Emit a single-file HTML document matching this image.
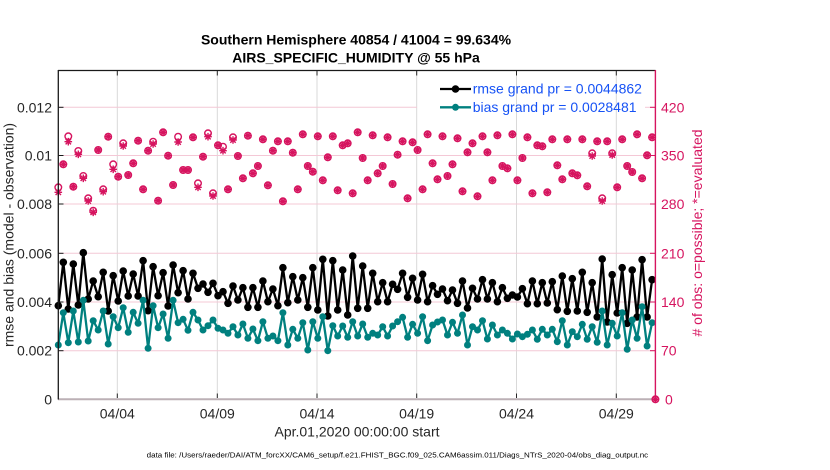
<!DOCTYPE html>
<html><head><meta charset="utf-8"><style>
html,body{margin:0;padding:0;background:#fff;}
svg{display:block;font-family:"Liberation Sans",Arial,sans-serif;}
</style></head><body>
<svg width="830" height="470" viewBox="0 0 830 470" xmlns="http://www.w3.org/2000/svg">
<defs>
<marker id="mb" markerUnits="userSpaceOnUse" markerWidth="10" markerHeight="10" refX="5" refY="5"><circle cx="5" cy="5" r="3.8" fill="#000"/></marker>
<marker id="mt" markerUnits="userSpaceOnUse" markerWidth="10" markerHeight="10" refX="5" refY="5"><circle cx="5" cy="5" r="3.5" fill="#00807f"/></marker>
<g id="o"><circle cx="0" cy="0" r="3.3" fill="none" stroke="#d6145f" stroke-width="1.4"/></g>
<g id="s"><path d="M-3.8,0H3.8M0,-3.8V3.8M-2.7,-2.7L2.7,2.7M-2.7,2.7L2.7,-2.7" stroke="#d6145f" stroke-width="1.4" fill="none"/></g>
</defs>
<rect width="830" height="470" fill="#fff"/>

<g stroke="#d9d9d9" stroke-width="1">
<line x1="117.3" y1="71" x2="117.3" y2="398"/>
<line x1="217.3" y1="71" x2="217.3" y2="398"/>
<line x1="317" y1="71" x2="317" y2="398"/>
<line x1="416.7" y1="71" x2="416.7" y2="398"/>
<line x1="516.5" y1="71" x2="516.5" y2="398"/>
<line x1="616.3" y1="71" x2="616.3" y2="398"/>
</g>
<g stroke="#f4c8d6" stroke-width="1">
<line x1="58" y1="107.3" x2="417" y2="107.3"/>
<line x1="645" y1="107.3" x2="655" y2="107.3"/>
<line x1="58" y1="155.5" x2="655" y2="155.5"/>
<line x1="58" y1="204" x2="655" y2="204"/>
<line x1="58" y1="253.3" x2="655" y2="253.3"/>
<line x1="58" y1="302" x2="655" y2="302"/>
<line x1="58" y1="350.7" x2="655" y2="350.7"/>
</g>

<g>
<use href="#o" x="58.3" y="187.3"/><use href="#s" x="58.3" y="192.3"/>
<use href="#o" x="63.3" y="164.3"/><use href="#s" x="63.3" y="164.3"/>
<use href="#o" x="68.3" y="136.3"/><use href="#s" x="68.3" y="141.7"/>
<use href="#o" x="73.3" y="186.7"/><use href="#s" x="73.3" y="186.7"/>
<use href="#o" x="78.3" y="151"/><use href="#s" x="78.3" y="154.3"/>
<use href="#o" x="83.3" y="176"/><use href="#s" x="83.3" y="178.3"/>
<use href="#o" x="88.2" y="198.3"/><use href="#s" x="88.2" y="201"/>
<use href="#o" x="93.2" y="210.7"/><use href="#s" x="93.2" y="212.3"/>
<use href="#o" x="98.2" y="150"/><use href="#s" x="98.2" y="150"/>
<use href="#o" x="103.2" y="189.3"/><use href="#s" x="103.2" y="191.7"/>
<use href="#o" x="108.2" y="136.7"/><use href="#s" x="108.2" y="136.7"/>
<use href="#o" x="113.2" y="164.3"/><use href="#s" x="113.2" y="169.3"/>
<use href="#o" x="118.2" y="176.7"/><use href="#s" x="118.2" y="176.7"/>
<use href="#o" x="123.2" y="143.3"/><use href="#s" x="123.2" y="146"/>
<use href="#o" x="128.2" y="175"/><use href="#s" x="128.2" y="175"/>
<use href="#o" x="133.2" y="163.3"/><use href="#s" x="133.2" y="163.3"/>
<use href="#o" x="138.1" y="140.7"/><use href="#s" x="138.1" y="140.7"/>
<use href="#o" x="143.1" y="189.3"/><use href="#s" x="143.1" y="189.3"/>
<use href="#o" x="148.1" y="150.7"/><use href="#s" x="148.1" y="150.7"/>
<use href="#o" x="153.1" y="141.7"/><use href="#s" x="153.1" y="144"/>
<use href="#o" x="158.1" y="200.7"/><use href="#s" x="158.1" y="200.7"/>
<use href="#o" x="163.1" y="132.3"/><use href="#s" x="163.1" y="132.3"/>
<use href="#o" x="168.1" y="155.7"/><use href="#s" x="168.1" y="155.7"/>
<use href="#o" x="173.1" y="185"/><use href="#s" x="173.1" y="185"/>
<use href="#o" x="178.1" y="136.7"/><use href="#s" x="178.1" y="142"/>
<use href="#o" x="183.1" y="170"/><use href="#s" x="183.1" y="170"/>
<use href="#o" x="188" y="170"/><use href="#s" x="188" y="170"/>
<use href="#o" x="193" y="137.3"/><use href="#s" x="193" y="137.3"/>
<use href="#o" x="198" y="183.3"/><use href="#s" x="198" y="187.3"/>
<use href="#o" x="203" y="156.7"/><use href="#s" x="203" y="156.7"/>
<use href="#o" x="208" y="133.3"/><use href="#s" x="208" y="136.7"/>
<use href="#o" x="213" y="193.3"/><use href="#s" x="213" y="196"/>
<use href="#o" x="218" y="145.3"/><use href="#s" x="218" y="145.3"/>
<use href="#o" x="223" y="146.7"/><use href="#s" x="223" y="150.7"/>
<use href="#o" x="228" y="189.3"/><use href="#s" x="228" y="189.3"/>
<use href="#o" x="233" y="137.3"/><use href="#s" x="233" y="140"/>
<use href="#o" x="237.9" y="156"/><use href="#s" x="237.9" y="156"/>
<use href="#o" x="242.9" y="178.3"/><use href="#s" x="242.9" y="178.3"/>
<use href="#o" x="247.9" y="135.7"/><use href="#s" x="247.9" y="135.7"/>
<use href="#o" x="252.9" y="173.3"/><use href="#s" x="252.9" y="173.3"/>
<use href="#o" x="257.9" y="166"/><use href="#s" x="257.9" y="166"/>
<use href="#o" x="262.9" y="139.3"/><use href="#s" x="262.9" y="139.3"/>
<use href="#o" x="267.9" y="185.3"/><use href="#s" x="267.9" y="185.3"/>
<use href="#o" x="272.9" y="150.7"/><use href="#s" x="272.9" y="150.7"/>
<use href="#o" x="277.9" y="141.3"/><use href="#s" x="277.9" y="141.3"/>
<use href="#o" x="282.9" y="201.3"/><use href="#s" x="282.9" y="201.3"/>
<use href="#o" x="287.8" y="141.3"/><use href="#s" x="287.8" y="141.3"/>
<use href="#o" x="292.8" y="152.7"/><use href="#s" x="292.8" y="152.7"/>
<use href="#o" x="297.8" y="189.3"/><use href="#s" x="297.8" y="189.3"/>
<use href="#o" x="302.8" y="134.3"/><use href="#s" x="302.8" y="134.3"/>
<use href="#o" x="307.8" y="166"/><use href="#s" x="307.8" y="166"/>
<use href="#o" x="312.8" y="171.7"/><use href="#s" x="312.8" y="171.7"/>
<use href="#o" x="317.8" y="136.3"/><use href="#s" x="317.8" y="136.3"/>
<use href="#o" x="322.8" y="180.3"/><use href="#s" x="322.8" y="180.3"/>
<use href="#o" x="327.8" y="157.3"/><use href="#s" x="327.8" y="157.3"/>
<use href="#o" x="332.8" y="136.3"/><use href="#s" x="332.8" y="136.3"/>
<use href="#o" x="337.7" y="190.3"/><use href="#s" x="337.7" y="190.3"/>
<use href="#o" x="342.7" y="145.3"/><use href="#s" x="342.7" y="145.3"/>
<use href="#o" x="347.7" y="143.3"/><use href="#s" x="347.7" y="143.3"/>
<use href="#o" x="352.7" y="193.3"/><use href="#s" x="352.7" y="193.3"/>
<use href="#o" x="357.7" y="132.3"/><use href="#s" x="357.7" y="132.3"/>
<use href="#o" x="362.7" y="158"/><use href="#s" x="362.7" y="158"/>
<use href="#o" x="367.7" y="180.3"/><use href="#s" x="367.7" y="180.3"/>
<use href="#o" x="372.7" y="135.3"/><use href="#s" x="372.7" y="135.3"/>
<use href="#o" x="377.7" y="173.3"/><use href="#s" x="377.7" y="173.3"/>
<use href="#o" x="382.7" y="166"/><use href="#s" x="382.7" y="166"/>
<use href="#o" x="387.6" y="137.3"/><use href="#s" x="387.6" y="137.3"/>
<use href="#o" x="392.6" y="184"/><use href="#s" x="392.6" y="184"/>
<use href="#o" x="397.6" y="154.7"/><use href="#s" x="397.6" y="154.7"/>
<use href="#o" x="402.6" y="141.3"/><use href="#s" x="402.6" y="141.3"/>
<use href="#o" x="407.6" y="198.3"/><use href="#s" x="407.6" y="198.3"/>
<use href="#o" x="412.6" y="142.3"/><use href="#s" x="412.6" y="142.3"/>
<use href="#o" x="417.6" y="150"/><use href="#s" x="417.6" y="150"/>
<use href="#o" x="422.6" y="189.3"/><use href="#s" x="422.6" y="189.3"/>
<use href="#o" x="427.6" y="134.3"/><use href="#s" x="427.6" y="134.3"/>
<use href="#o" x="432.6" y="163.3"/><use href="#s" x="432.6" y="163.3"/>
<use href="#o" x="437.5" y="179.3"/><use href="#s" x="437.5" y="179.3"/>
<use href="#o" x="442.5" y="136.3"/><use href="#s" x="442.5" y="136.3"/>
<use href="#o" x="447.5" y="176"/><use href="#s" x="447.5" y="176"/>
<use href="#o" x="452.5" y="164.3"/><use href="#s" x="452.5" y="164.3"/>
<use href="#o" x="457.5" y="138.3"/><use href="#s" x="457.5" y="138.3"/>
<use href="#o" x="462.5" y="191.3"/><use href="#s" x="462.5" y="191.3"/>
<use href="#o" x="467.5" y="152.3"/><use href="#s" x="467.5" y="152.3"/>
<use href="#o" x="472.5" y="143.3"/><use href="#s" x="472.5" y="143.3"/>
<use href="#o" x="477.5" y="196.3"/><use href="#s" x="477.5" y="196.3"/>
<use href="#o" x="482.5" y="136.3"/><use href="#s" x="482.5" y="136.3"/>
<use href="#o" x="487.4" y="152.3"/><use href="#s" x="487.4" y="152.3"/>
<use href="#o" x="492.4" y="180.3"/><use href="#s" x="492.4" y="180.3"/>
<use href="#o" x="497.4" y="135.3"/><use href="#s" x="497.4" y="135.3"/>
<use href="#o" x="502.4" y="166"/><use href="#s" x="502.4" y="166"/>
<use href="#o" x="507.4" y="168.3"/><use href="#s" x="507.4" y="168.3"/>
<use href="#o" x="512.4" y="134.3"/><use href="#s" x="512.4" y="134.3"/>
<use href="#o" x="517.4" y="180.3"/><use href="#s" x="517.4" y="180.3"/>
<use href="#o" x="522.4" y="158"/><use href="#s" x="522.4" y="158"/>
<use href="#o" x="527.4" y="137.3"/><use href="#s" x="527.4" y="137.3"/>
<use href="#o" x="532.4" y="193.3"/><use href="#s" x="532.4" y="193.3"/>
<use href="#o" x="537.3" y="145.3"/><use href="#s" x="537.3" y="145.3"/>
<use href="#o" x="542.3" y="146.3"/><use href="#s" x="542.3" y="146.3"/>
<use href="#o" x="547.3" y="192.3"/><use href="#s" x="547.3" y="192.3"/>
<use href="#o" x="552.3" y="139.3"/><use href="#s" x="552.3" y="139.3"/>
<use href="#o" x="557.3" y="165.3"/><use href="#s" x="557.3" y="165.3"/>
<use href="#o" x="562.3" y="179.3"/><use href="#s" x="562.3" y="179.3"/>
<use href="#o" x="567.3" y="139.3"/><use href="#s" x="567.3" y="139.3"/>
<use href="#o" x="572.3" y="173.3"/><use href="#s" x="572.3" y="173.3"/>
<use href="#o" x="577.3" y="175.3"/><use href="#s" x="577.3" y="175.3"/>
<use href="#o" x="582.3" y="139.3"/><use href="#s" x="582.3" y="139.3"/>
<use href="#o" x="587.2" y="186.3"/><use href="#s" x="587.2" y="186.3"/>
<use href="#o" x="592.2" y="153.3"/><use href="#s" x="592.2" y="156"/>
<use href="#o" x="597.2" y="141.3"/><use href="#s" x="597.2" y="141.3"/>
<use href="#o" x="602.2" y="198.3"/><use href="#s" x="602.2" y="201"/>
<use href="#o" x="607.2" y="141.3"/><use href="#s" x="607.2" y="141.3"/>
<use href="#o" x="612.2" y="153.3"/><use href="#s" x="612.2" y="155"/>
<use href="#o" x="617.2" y="187.3"/><use href="#s" x="617.2" y="187.3"/>
<use href="#o" x="622.2" y="139.3"/><use href="#s" x="622.2" y="139.3"/>
<use href="#o" x="627.2" y="166"/><use href="#s" x="627.2" y="166"/>
<use href="#o" x="632.2" y="172"/><use href="#s" x="632.2" y="172"/>
<use href="#o" x="637.1" y="134.3"/><use href="#s" x="637.1" y="134.3"/>
<use href="#o" x="642.1" y="178.3"/><use href="#s" x="642.1" y="178.3"/>
<use href="#o" x="647.1" y="155.3"/><use href="#s" x="647.1" y="155.3"/>
<use href="#o" x="652.1" y="137.3"/><use href="#s" x="652.1" y="137.3"/>
</g>

<polyline fill="none" stroke="#000" stroke-width="2.3" stroke-linejoin="round" marker-start="url(#mb)" marker-mid="url(#mb)" marker-end="url(#mb)" points="58.3,305.7 63.3,262.3 68.3,309 73.3,264 78.3,305 83.3,252.7 88.2,299 93.2,281 98.2,296.7 103.2,272.3 108.2,311 113.2,275.7 118.2,301 123.2,271 128.2,296 133.2,274 138.1,296 143.1,260.7 148.1,310.7 153.1,266.7 158.1,295.7 163.1,272.7 168.1,306 173.1,265 178.1,292.7 183.1,270.7 188,299 193,273.3 198,288.3 203,284 208,292.3 213,283.3 218,295.7 223,291.7 228,303.3 233,286 237.9,300 242.9,287.7 247.9,307.3 252.9,287.7 257.9,307.3 262.9,281 267.9,301.7 272.9,289 277.9,305.7 282.9,267.7 287.8,302.7 292.8,276.7 297.8,300 302.8,277.7 307.8,307.3 312.8,267.7 317.8,310 322.8,259.3 327.8,316 332.8,260.7 337.7,310 342.7,270 347.7,315 352.7,256 357.7,308.3 362.7,266 367.7,308.3 372.7,273.3 377.7,301.7 382.7,282.7 387.6,301.7 392.6,284.3 397.6,289.3 402.6,273.3 407.6,297.3 412.6,278.3 417.6,300 422.6,274.3 427.6,301.7 432.6,285.7 437.5,294.3 442.5,289 447.5,300.7 452.5,290 457.5,303.3 462.5,281 467.5,308 472.5,288.3 477.5,299 482.5,279.7 487.4,299 492.4,282.7 497.4,301.7 502.4,287.7 507.4,298.3 512.4,295 517.4,297 522.4,288.7 527.4,303.7 532.4,281 537.3,303.7 542.3,282.7 547.3,303 552.3,281.7 557.3,309.7 562.3,276 567.3,311.3 572.3,278.7 577.3,311 582.3,272.3 587.2,312.3 592.2,282.7 597.2,317 602.2,259 607.2,322 612.2,274.7 617.2,313 622.2,267.7 627.2,323.3 632.2,270 637.1,317 642.1,259.7 647.1,317 652.1,279.7"/>

<polyline fill="none" stroke="#00807f" stroke-width="2.3" stroke-linejoin="round" marker-start="url(#mt)" marker-mid="url(#mt)" marker-end="url(#mt)" points="58.3,345 63.3,312.7 68.3,342.7 73.3,311 78.3,342 83.3,300.3 88.2,341 93.2,320.7 98.2,330 103.2,311 108.2,344 113.2,316.7 118.2,327.7 123.2,307.7 128.2,332.3 133.2,312.3 138.1,323.3 143.1,300.3 148.1,348.3 153.1,305.7 158.1,327.7 163.1,314 168.1,338.3 173.1,300.3 178.1,322.7 183.1,319.3 188,330.3 193,312.3 198,320 203,330 208,325.7 213,320 218,328.3 223,330 228,333.3 233,326.7 237.9,335 242.9,324 247.9,338.3 252.9,329 257.9,340.7 262.9,321.7 267.9,338.3 272.9,336 277.9,340.7 282.9,312.7 287.8,345 292.8,329.3 297.8,338.3 302.8,322.7 307.8,350 312.8,321.7 317.8,338.3 322.8,316.7 327.8,350.7 332.8,325.7 337.7,336 342.7,326 347.7,337.3 352.7,321.7 357.7,336 362.7,324 367.7,337.3 372.7,333.3 377.7,335 382.7,326.7 387.6,336 392.6,326 397.6,321.7 402.6,317.3 407.6,337.3 412.6,324.3 417.6,333.3 422.6,316.7 427.6,340.7 432.6,325 437.5,322 442.5,320 447.5,335 452.5,322.3 457.5,333.3 462.5,315 467.5,345 472.5,326.7 477.5,330 482.5,320.7 487.4,339 492.4,325 497.4,335 502.4,330 507.4,333.3 512.4,339 517.4,334 522.4,336.7 527.4,334.3 532.4,330 537.3,339.3 542.3,329.3 547.3,335 552.3,329.3 557.3,341.7 562.3,320.7 567.3,345 572.3,331.7 577.3,336.7 582.3,324.3 587.2,339.3 592.2,326.7 597.2,342.3 602.2,311 607.2,345 612.2,323.3 617.2,336 622.2,312.7 627.2,349.3 632.2,320 637.1,338.3 642.1,306.7 647.1,346 652.1,322.7"/>

<line x1="58" y1="399.2" x2="655.5" y2="399.2" stroke="#bcb0b5" stroke-width="2"/>
<line x1="58" y1="70.5" x2="655.5" y2="70.5" stroke="#1a1a1a" stroke-width="1.2"/>
<line x1="58.3" y1="70" x2="58.3" y2="399.5" stroke="#1a1a1a" stroke-width="1.3"/>
<line x1="655.4" y1="70" x2="655.4" y2="399.5" stroke="#d6145f" stroke-width="1.4"/>
<g stroke="#262626" stroke-width="1">
<line x1="117.3" y1="393.5" x2="117.3" y2="398"/><line x1="217.3" y1="393.5" x2="217.3" y2="398"/>
<line x1="317" y1="393.5" x2="317" y2="398"/><line x1="416.7" y1="393.5" x2="416.7" y2="398"/>
<line x1="516.5" y1="393.5" x2="516.5" y2="398"/><line x1="616.3" y1="393.5" x2="616.3" y2="398"/>
<line x1="117.3" y1="71" x2="117.3" y2="75.5"/><line x1="217.3" y1="71" x2="217.3" y2="75.5"/>
<line x1="317" y1="71" x2="317" y2="75.5"/><line x1="416.7" y1="71" x2="416.7" y2="75.5"/>
<line x1="516.5" y1="71" x2="516.5" y2="75.5"/><line x1="616.3" y1="71" x2="616.3" y2="75.5"/>
</g>
<g stroke="#1a1a1a" stroke-width="1">
<line x1="58" y1="107.3" x2="63.5" y2="107.3"/><line x1="58" y1="155.5" x2="63.5" y2="155.5"/>
<line x1="58" y1="204" x2="63.5" y2="204"/><line x1="58" y1="253.3" x2="63.5" y2="253.3"/>
<line x1="58" y1="302" x2="63.5" y2="302"/><line x1="58" y1="350.7" x2="63.5" y2="350.7"/>
</g>
<g stroke="#d6145f" stroke-width="1">
<line x1="650" y1="107.3" x2="655" y2="107.3"/><line x1="650" y1="155.5" x2="655" y2="155.5"/>
<line x1="650" y1="204" x2="655" y2="204"/><line x1="650" y1="253.3" x2="655" y2="253.3"/>
<line x1="650" y1="302" x2="655" y2="302"/><line x1="650" y1="350.7" x2="655" y2="350.7"/>
</g>
<use href="#o" x="655.4" y="399.3"/><use href="#s" x="655.4" y="399.3"/>

<g font-size="14" fill="#262626" text-anchor="end">
<text x="52" y="112.3">0.012</text>
<text x="52" y="160.5">0.01</text>
<text x="52" y="209">0.008</text>
<text x="52" y="258.3">0.006</text>
<text x="52" y="307">0.004</text>
<text x="52" y="355.7">0.002</text>
<text x="52" y="404.3">0</text>
</g>
<g font-size="14" fill="#d6145f">
<text x="661" y="112.3">420</text>
<text x="661" y="160.5">350</text>
<text x="661" y="209">280</text>
<text x="661" y="258.3">210</text>
<text x="661" y="307">140</text>
<text x="661" y="355.7">70</text>
<text x="665" y="404.3">0</text>
</g>
<g font-size="14" fill="#262626" text-anchor="middle">
<text x="117.3" y="418.3">04/04</text>
<text x="217.3" y="418.3">04/09</text>
<text x="317" y="418.3">04/14</text>
<text x="416.7" y="418.3">04/19</text>
<text x="516.5" y="418.3">04/24</text>
<text x="616.3" y="418.3">04/29</text>
<text x="357" y="436.7">Apr.01,2020 00:00:00 start</text>
</g>

<text transform="translate(13.5,235) rotate(-90)" font-size="14" fill="#262626" text-anchor="middle">rmse and bias (model - observation)</text>
<text transform="translate(702,233) rotate(-90)" font-size="14" fill="#d6145f" text-anchor="middle"># of obs: o=possible; *=evaluated</text>

<g font-size="14" font-weight="bold" fill="#000" text-anchor="middle">
<text x="356" y="44.3">Southern Hemisphere 40854 / 41004 = 99.634%</text>
<text x="356" y="62.7">AIRS_SPECIFIC_HUMIDITY @ 55 hPa</text>
</g>

<line x1="440" y1="89" x2="471" y2="89" stroke="#000" stroke-width="2.3"/>
<circle cx="455.5" cy="89" r="3.8" fill="#000"/>
<line x1="440" y1="107.3" x2="471" y2="107.3" stroke="#00807f" stroke-width="2.3"/>
<circle cx="455.5" cy="107.3" r="3.5" fill="#00807f"/>
<g font-size="14" fill="#1652f5">
<text x="472.7" y="93.6">rmse grand pr = 0.0044862</text>
<text x="472.7" y="111.8">bias grand pr = 0.0028481</text>
</g>

<text x="146.7" y="457.6" font-size="7.6" fill="#000" textLength="501.5" lengthAdjust="spacingAndGlyphs">data file: /Users/raeder/DAI/ATM_forcXX/CAM6_setup/f.e21.FHIST_BGC.f09_025.CAM6assim.011/Diags_NTrS_2020-04/obs_diag_output.nc</text>
</svg>
</body></html>
